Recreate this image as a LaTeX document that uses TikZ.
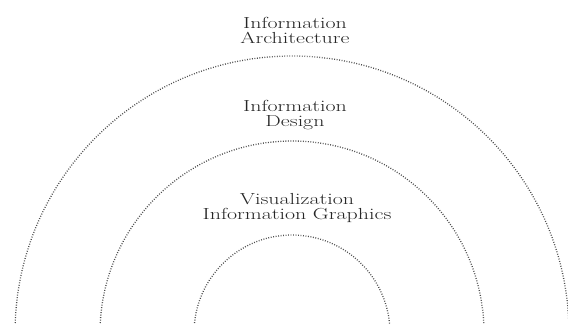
\documentclass[tikz,border=0pt]{standalone}
\usepackage{tikz}

\tikzset{
	ring/.style={line width=1.3pt, gray!60!black, dash pattern=on 0.9pt off 1.6pt},
	ringlabel/.style={anchor=north, inner sep=0pt, align=center, xscale=1.37, text=black!85,
		font=\fontsize{16}{15}\selectfont}
}

\begin{document}
\begin{tikzpicture}[x=1pt, y=1pt]
	\useasboundingbox (0,0) rectangle (568,-324);
	
	% gemeinsamer Mittelpunkt knapp unter dem Bildrand
	\coordinate (m) at (292,-333);
	
	% drei gepunktete Halbkreise
	\draw[ring] ([xshift=-277pt]m) arc[start angle=180, end angle=0, radius=277];
	\draw[ring] ([xshift=-192pt]m) arc[start angle=180, end angle=0, radius=192];
	\draw[ring] ([xshift=-98pt]m) arc[start angle=180, end angle=0, radius=98];
	
	% Beschriftungen
	\node[ringlabel] (arch) at (295,-17) {Information\\Architecture};
	\node[ringlabel] (design) at (295,-100) {Information\\Design};
	\node[ringlabel] (vis) at (297,-193) {Visualization\\Information Graphics};
\end{tikzpicture}
\end{document}
